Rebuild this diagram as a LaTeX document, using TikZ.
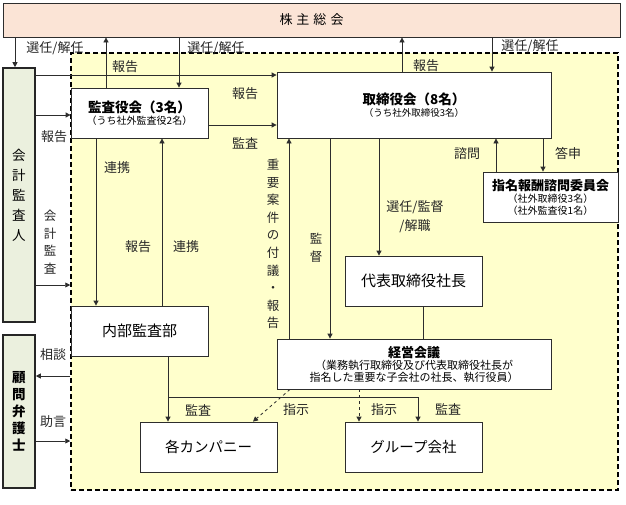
\documentclass[tikz,border=0pt]{standalone}
\usepackage{fontspec}
\setmainfont{Noto Sans CJK JP}
\usetikzlibrary{arrows.meta}

\definecolor{kabucol}{RGB}{251,228,214}
\definecolor{zonecol}{RGB}{255,255,204}
\definecolor{sidecol}{RGB}{235,240,222}
\definecolor{linecol}{RGB}{45,45,45}

\newcommand\ttlfnt{\fontsize{13.5}{16}\selectfont}
\newcommand\notefnt{\fontsize{10}{12.5}\selectfont}

\tikzset{
  box/.style={draw=linecol, line width=0.8pt, fill=white, inner sep=0pt, align=center},
  sidebox/.style={draw=black!85, line width=1.6pt, fill=sidecol, inner sep=0pt, align=center},
  arr/.style={draw=linecol, line width=0.8pt, -{Triangle[length=5pt,width=5pt]}},
  dasharr/.style={arr, dashed},
  lbl/.style={inner sep=0pt, text=black!85, font=\fontsize{13}{14}\selectfont},
  vlbl/.style={lbl, align=center, font=\fontsize{12.5}{17.6}\selectfont},
}

\begin{document}
\begin{tikzpicture}[x=1pt,y=-1pt]
\useasboundingbox (0,0) rectangle (626,504);

% frames
\node[draw=linecol, line width=0.8pt, fill=kabucol, minimum width=617pt, minimum height=34pt, inner sep=0pt,
      font=\fontsize{13}{15}\selectfont] (kabunushi) at (311.5,20) {株\hspace{4pt}主\hspace{4pt}総\hspace{4pt}会};
\node[draw=black, line width=1.5pt, dash pattern=on 5pt off 3pt, fill=zonecol,
      minimum width=547pt, minimum height=437pt, inner sep=0pt] (zone) at (344.5,271.5) {};

\node[sidebox, minimum width=32pt, minimum height=254pt, font=\fontsize{13.5}{20}\selectfont] (kaikei) at (19,195)
  {会\\計\\監\\査\\人};
\node[sidebox, minimum width=32pt, minimum height=153pt, font=\fontsize{13.5}{17}\selectfont\bfseries] (bengoshi) at (19,411.5)
  {顧\\問\\弁\\護\\士};

% boxes
\node[box, minimum width=137pt, minimum height=50pt] (kansayaku) at (139.5,113)
  {{\ttlfnt\bfseries 監査役会（3名）}\\{\notefnt （うち社外監査役2名）}};
\node[box, minimum width=274pt, minimum height=66pt] (torishimari) at (414,105)
  {{\ttlfnt\bfseries 取締役会（8名）}\\{\fontsize{9.5}{12}\selectfont （うち社外取締役3名）}};
\node[box, minimum width=135pt, minimum height=50pt] (shimei) at (550.5,197)
  {{\fontsize{13}{15}\selectfont\bfseries 指名報酬諮問委員会}\\{\notefnt （社外取締役3名）}\\{\notefnt （社外監査役1名）}};
\node[box, minimum width=137pt, minimum height=50pt, font=\fontsize{15}{17}\selectfont] (shacho) at (413.5,281) {代表取締役社長};
\node[box, minimum width=137pt, minimum height=50pt, font=\fontsize{15}{17}\selectfont] (naibu) at (139.5,331) {内部監査部};
\node[box, minimum width=274pt, minimum height=50pt] (keiei) at (414,364)
  {{\fontsize{13}{15}\selectfont\bfseries 経営会議}\\{\fontsize{11}{13}\selectfont （業務執行取締役及び代表取締役社長が}\\{\fontsize{11}{13}\selectfont 指名した重要な子会社の社長、執行役員）}};
\node[box, minimum width=137pt, minimum height=50pt, font=\fontsize{14.5}{17}\selectfont] (company) at (208.5,447) {各カンパニー};
\node[box, minimum width=137pt, minimum height=50pt, font=\fontsize{14.5}{17}\selectfont] (group) at (413.5,447) {グループ会社};

% connectors
\draw[arr] (kabunushi.south -| 15,0) -- (kaikei.north -| 15,0);
\draw[arr] (kansayaku.north -| 106,0) -- (kabunushi.south -| 106,0);
\draw[arr] (kabunushi.south -| 179,0) -- (kansayaku.north -| 179,0);
\draw[arr] (torishimari.north -| 402,0) -- (kabunushi.south -| 402,0);
\draw[arr] (kabunushi.south -| 492,0) -- (torishimari.north -| 492,0);

\draw[arr] (kaikei.east |- 0,75) -- (torishimari.west |- 0,75);
\draw[arr] (kaikei.east |- 0,115) -- (kansayaku.west |- 0,115);
\draw[arr] (kaikei.east |- 0,285) -- (zone.west |- 0,285);
\draw[arr] (kansayaku.east |- 0,125) -- (torishimari.west |- 0,125);

\draw[arr] (kansayaku.south -| 96,0) -- (naibu.north -| 96,0);
\draw[arr] (naibu.north -| 162,0) -- (kansayaku.south -| 162,0);

\draw[arr] (keiei.north -| 289,0) -- (torishimari.south -| 289,0);
\draw[arr] (torishimari.south -| 330,0) -- (keiei.north -| 330,0);
\draw[arr] (torishimari.south -| 379,0) -- (shacho.north -| 379,0);
\draw[arr] (shimei.north -| 496,0) -- (torishimari.south -| 496,0);
\draw[arr] (torishimari.south -| 543,0) -- (shimei.north -| 543,0);
\draw[draw=linecol, line width=0.8pt] (shacho.south -| 423,0) -- (keiei.north -| 423,0);

\draw[arr] (naibu.south -| 168,0) -- (company.north -| 168,0);
\coordinate (branch) at (168,397);
\draw[arr] (branch) -| (group.north -| 418,0);
\draw[dasharr] (keiei.south -| 290,0) -- (company.north -| 253,0);
\draw[dasharr] (keiei.south -| 359,0) -- (group.north -| 359,0);

\draw[arr] (zone.west |- 0,376) -- (bengoshi.east |- 0,376);
\draw[arr] (bengoshi.east |- 0,441) -- (zone.west |- 0,441);

% labels
\node[lbl] (l1) at (55,48) {選任/解任};
\node[lbl] (l2) at (125,67) {報告};
\node[lbl] (l3) at (216,48) {選任/解任};
\node[lbl] (l4) at (245,94) {報告};
\node[lbl] (l5) at (245,143) {監査};
\node[lbl] (l6) at (426,66) {報告};
\node[lbl] (l7) at (530,46) {選任/解任};
\node[lbl] (l8) at (54,137) {報告};
\node[lbl] (l9) at (117,168) {連携};
\node[lbl] (l10) at (138,247) {報告};
\node[lbl] (l11) at (186,247) {連携};
\node[vlbl] (l12) at (50,242) {会\\計\\監\\査};
\node[vlbl] (l13) at (273,244) {重\\要\\案\\件\\の\\付\\議\\・\\報\\告};
\node[vlbl] (l14) at (316,248) {監\\督};
\node[lbl, align=center, font=\fontsize{13}{19}\selectfont] (l15) at (415,217) {選任/監督\\/解職};
\node[lbl] (l16) at (467,154) {諮問};
\node[lbl] (l17) at (568,153) {答申};
\node[lbl] (l18) at (53,355) {相談};
\node[lbl] (l19) at (53,422) {助言};
\node[lbl] (l20) at (198,410) {監査};
\node[lbl] (l21) at (296,410) {指示};
\node[lbl] (l22) at (384,410) {指示};
\node[lbl] (l23) at (448,409) {監査};
\end{tikzpicture}
\end{document}
